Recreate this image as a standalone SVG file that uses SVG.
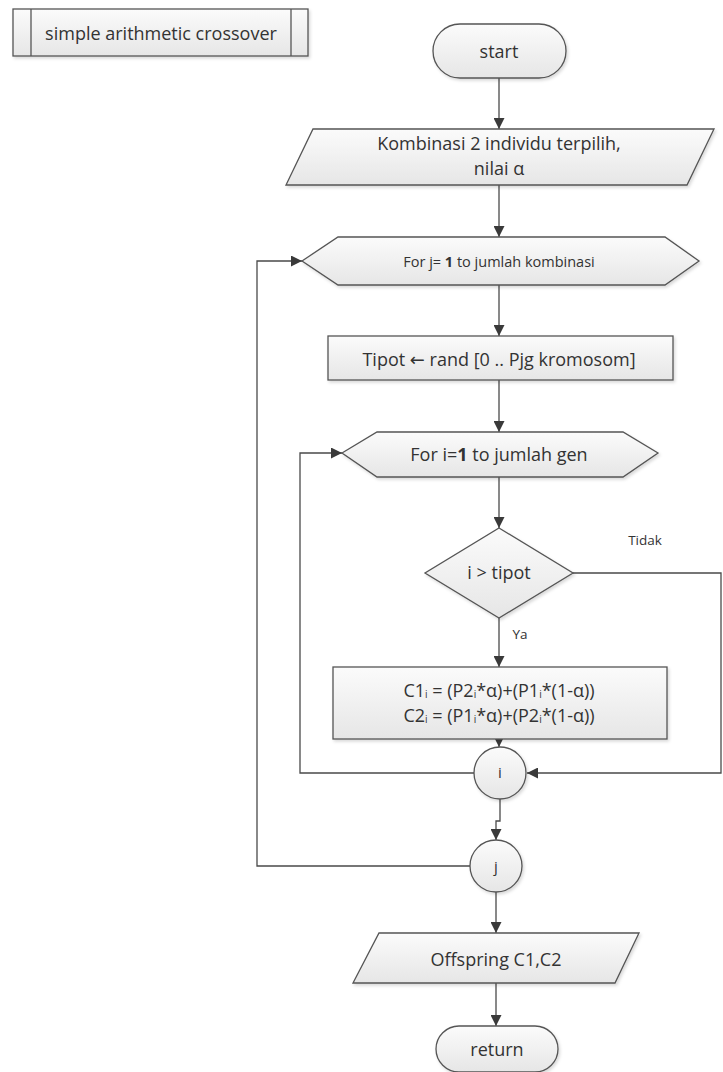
<svg xmlns="http://www.w3.org/2000/svg" width="723" height="1072" viewBox="0 0 723 1072">
<defs>
<linearGradient id="g" x1="0" y1="0" x2="0" y2="1">
<stop offset="0" stop-color="#fbfbfb"/>
<stop offset="1" stop-color="#e6e6e6"/>
</linearGradient>
<filter id="sh" x="-10%" y="-10%" width="120%" height="130%">
<feDropShadow dx="1.5" dy="2" stdDeviation="1.5" flood-color="#000" flood-opacity="0.15"/>
</filter>
<marker id="ah" viewBox="0 0 12 12" refX="12" refY="6" markerWidth="12" markerHeight="11" markerUnits="userSpaceOnUse" orient="auto">
<path d="M0,0 L12,6 L0,12 z" fill="#3a3a3a"/>
</marker>
</defs>
<style>
.s{fill:url(#g);stroke:#555;stroke-width:1.3;filter:url(#sh)}
.t{font-family:"Open Sans","Liberation Sans",sans-serif;font-size:18px;fill:#333;text-anchor:middle;dominant-baseline:central}
.sm{font-size:13.5px}
.c{fill:none;stroke:#4a4a4a;stroke-width:1.3}
.a{marker-end:url(#ah)}
</style>
<rect width="723" height="1072" fill="#fff"/>

<g id="connectors">
<path class="c a" d="M499,78 V129"/>
<path class="c a" d="M499,185 V237"/>
<path class="c a" d="M499,285 V336"/>
<path class="c a" d="M499,380 V432"/>
<path class="c a" d="M499,477 V528"/>
<path class="c a" d="M499,618 V667"/>
<path class="c a" d="M499,739 V747"/>
<path class="c a" d="M573,573 H721 V773 H527"/>
<path class="c a" d="M474,773 H300 V453 H342"/>
<path class="c a" d="M500,799 V821 H496 V840"/>
<path class="c a" d="M470,866 H257 V261 H302"/>
<path class="c a" d="M496,892 V933"/>
<path class="c a" d="M496,983 V1026"/>
<text class="t sm" x="645" y="540">Tidak</text>
<text class="t sm" x="520" y="634">Ya</text>
</g>

<g id="title">
<rect class="s" x="13" y="9" width="295" height="47"/>
<line x1="31" y1="9" x2="31" y2="56" stroke="#555" stroke-width="1.3"/>
<line x1="291" y1="9" x2="291" y2="56" stroke="#555" stroke-width="1.3"/>
<text class="t" x="161" y="33">simple arithmetic crossover</text>
</g>

<g id="start">
<rect class="s" x="433" y="24" width="133" height="54" rx="27"/>
<text class="t" x="499" y="51">start</text>
</g>

<g id="input">
<polygon class="s" points="313,129 714,129 687,185 286,185"/>
<text class="t" x="499" y="143">Kombinasi 2 individu terpilih,</text>
<text class="t" x="499" y="168">nilai α</text>
</g>

<g id="loopj">
<polygon class="s" points="302,261 338,237 665,237 699,261 665,285 338,285"/>
<text class="t" x="499" y="261" style="font-size:14.5px">For j= <tspan font-weight="bold">1</tspan> to jumlah kombinasi</text>
</g>

<g id="tipot">
<rect class="s" x="328" y="336" width="345" height="44"/>
<text class="t" x="499" y="359">Tipot <tspan font-family="DejaVu Sans">←</tspan>  rand [0 .. Pjg kromosom]</text>
</g>

<g id="loopi">
<polygon class="s" points="342,453 377,432 623,432 658,453 623,477 377,477"/>
<text class="t" x="499" y="454">For i=<tspan font-weight="bold">1</tspan> to jumlah gen</text>
</g>

<g id="decision">
<polygon class="s" points="499,528 573,573 499,618 425,573"/>
<text class="t" x="499" y="572">i &gt; tipot</text>
</g>

<g id="compute">
<rect class="s" x="333" y="667" width="334" height="72"/>
<text class="t" x="499" y="690">C1<tspan font-size="10" dy="4">i</tspan><tspan dy="-4"> = (P2</tspan><tspan font-size="10" dy="4">i</tspan><tspan dy="-4">*α)+(P1</tspan><tspan font-size="10" dy="4">i</tspan><tspan dy="-4">*(1-α))</tspan></text>
<text class="t" x="499" y="715">C2<tspan font-size="10" dy="4">i</tspan><tspan dy="-4"> = (P1</tspan><tspan font-size="10" dy="4">i</tspan><tspan dy="-4">*α)+(P2</tspan><tspan font-size="10" dy="4">i</tspan><tspan dy="-4">*(1-α))</tspan></text>
</g>

<g id="conn-i">
<circle class="s" cx="500" cy="773" r="26"/>
<text class="t" x="500" y="772" style="font-size:15px">i</text>
</g>

<g id="conn-j">
<circle class="s" cx="496" cy="866" r="26"/>
<text class="t" x="496" y="866" style="font-size:15px">j</text>
</g>

<g id="output">
<polygon class="s" points="379,933 639,933 615,983 353,983"/>
<text class="t" x="496" y="959">Offspring C1,C2</text>
</g>

<g id="return">
<rect class="s" x="436" y="1026" width="122" height="46" rx="23"/>
<text class="t" x="497" y="1049">return</text>
</g>
</svg>
